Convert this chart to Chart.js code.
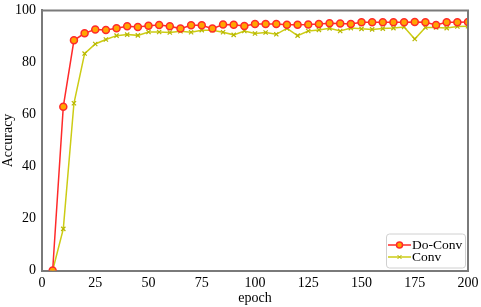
<!DOCTYPE html>
<html>
<head>
<meta charset="utf-8">
<script src="https://cdn.jsdelivr.net/npm/chart.js@4"></script>
<style>
  html, body { margin: 0; padding: 0; background: #fff; }
  #wrap { width: 481px; height: 307px; }
</style>
</head>
<body>
<div id="wrap"><canvas id="acc-chart" width="481" height="307"></canvas></div>
<script>
const epochs = [5, 10, 15, 20, 25, 30, 35, 40, 45, 50, 55, 60, 65, 70, 75, 80, 85, 90, 95, 100,
    105, 110, 115, 120, 125, 130, 135, 140, 145, 150, 155, 160, 165, 170, 175, 180, 185, 190, 195, 200];
const doConv = [0, 63, 88.5, 91.2, 92.7, 92.5, 93.1, 93.9, 93.6, 94.1, 94.4, 93.9, 93, 94.3, 94.3, 93, 94.6, 94.5, 94, 94.8,
    94.8, 94.8, 94.5, 94.5, 94.6, 94.8, 95.1, 95, 94.8, 95.4, 95.4, 95.4, 95.4, 95.4, 95.5, 95.4, 94.4, 95.4, 95.4, 95.5];
const conv = [0, 16, 64.3, 83.4, 87.1, 88.8, 90.3, 90.7, 90.4, 91.7, 91.7, 91.5, 92, 91.6, 92.4, 92.4, 91.6, 90.6, 92.1, 91.1,
    91.5, 90.8, 93.1, 90.3, 92.1, 92.5, 93.1, 92.1, 93.2, 92.9, 92.7, 93, 93.2, 93.6, 89, 93.4, 93.4, 93.2, 93.8, 93.9];
const xTicks = [0, 25, 50, 75, 100, 125, 150, 175, 200];
const yTicks = [0, 20, 40, 60, 80, 100];

const serif = "'Liberation Serif', 'Times New Roman', serif";

// frame on top and right, matplotlib style
const framePlugin = {
    id: 'frame',
    afterDraw(chart) {
        const { ctx, chartArea: a } = chart;
        ctx.save();
        ctx.strokeStyle = '#7a7a7a';
        ctx.lineWidth = 2;
        ctx.beginPath();
        ctx.moveTo(a.left, a.top);
        ctx.lineTo(a.right, a.top);
        ctx.lineTo(a.right, a.bottom);
        ctx.stroke();
        ctx.restore();
    }
};

// legend box in the lower right corner
const legendPlugin = {
    id: 'boxLegend',
    afterDraw(chart) {
        const { ctx, chartArea: a } = chart;
        const x0 = a.right - 82, y0 = a.bottom - 37, w = 79, h = 34;
        ctx.save();
        ctx.fillStyle = 'rgba(255,255,255,0.85)';
        ctx.strokeStyle = '#d0d0d0';
        ctx.lineWidth = 1;
        ctx.beginPath();
        ctx.roundRect(x0 + 0.5, y0 + 0.5, w, h, 3);
        ctx.fill();
        ctx.stroke();
        ctx.font = '13.5px ' + serif;
        ctx.textBaseline = 'middle';
        chart.data.datasets.forEach((ds, i) => {
            const cy = y0 + 11.5 + i * 12;
            ctx.strokeStyle = ds.borderColor;
            ctx.lineWidth = 1.5;
            ctx.beginPath();
            ctx.moveTo(x0 + 2, cy);
            ctx.lineTo(x0 + 25, cy);
            ctx.stroke();
            const mx = x0 + 13.5;
            if (ds.pointStyle === 'circle') {
                ctx.fillStyle = ds.pointBackgroundColor;
                ctx.strokeStyle = ds.pointBorderColor;
                ctx.beginPath();
                ctx.arc(mx, cy, 3, 0, Math.PI * 2);
                ctx.fill();
                ctx.stroke();
            } else {
                ctx.strokeStyle = ds.pointBorderColor;
                ctx.lineWidth = 1;
                ctx.beginPath();
                ctx.moveTo(mx - 2, cy - 2); ctx.lineTo(mx + 2, cy + 2);
                ctx.moveTo(mx - 2, cy + 2); ctx.lineTo(mx + 2, cy - 2);
                ctx.stroke();
            }
            ctx.fillStyle = '#000';
            ctx.fillText(ds.label, x0 + 26, cy + 0.5);
        });
        ctx.restore();
    }
};

new Chart(document.getElementById('acc-chart').getContext('2d'), {
    type: 'line',
    data: {
        labels: epochs,
        datasets: [{
            label: 'Do-Conv',
            data: doConv,
            borderColor: '#ff2a2a',
            borderWidth: 1.5,
            pointStyle: 'circle',
            pointRadius: 3.5,
            pointBorderWidth: 1.5,
            pointBackgroundColor: '#ffa500',
            pointBorderColor: '#ff2a2a',
            tension: 0
        }, {
            label: 'Conv',
            data: conv,
            borderColor: '#cccc14',
            borderWidth: 1.5,
            pointStyle: 'crossRot',
            pointRadius: 3,
            pointBorderWidth: 1.2,
            pointBorderColor: '#b8b800',
            tension: 0
        }]
    },
    options: {
        responsive: false,
        animation: false,
        layout: { padding: { top: 9, right: 13, left: 0, bottom: 0 } },
        plugins: { legend: { display: false }, tooltip: { enabled: false } },
        scales: {
            x: {
                type: 'linear',
                min: 0,
                max: 200,
                afterBuildTicks: s => { s.ticks = xTicks.map(v => ({ value: v })); },
                grid: { display: false, drawTicks: true, tickLength: 4, tickColor: '#555' },
                border: { display: true, color: '#7a7a7a', width: 2 },
                ticks: { color: '#000', font: { family: serif, size: 14 }, padding: 0, maxRotation: 0 },
                title: { display: true, text: 'epoch', color: '#000', font: { family: serif, size: 14 }, padding: { top: -3, bottom: 0 } },
                afterFit: s => { s.height = 36.5; }
            },
            y: {
                min: 0,
                max: 100,
                afterBuildTicks: s => { s.ticks = yTicks.map(v => ({ value: v })); },
                grid: { display: false, drawTicks: true, tickLength: 4, tickColor: '#555' },
                border: { display: true, color: '#7a7a7a', width: 2 },
                ticks: { color: '#000', font: { family: serif, size: 14 }, padding: 2 },
                title: { display: true, text: 'Accuracy', color: '#000', font: { family: serif, size: 14 }, padding: { top: 0, bottom: 0 } },
                afterFit: s => { s.width = 42; }
            }
        }
    },
    plugins: [framePlugin, legendPlugin]
});
</script>
</body>
</html>
